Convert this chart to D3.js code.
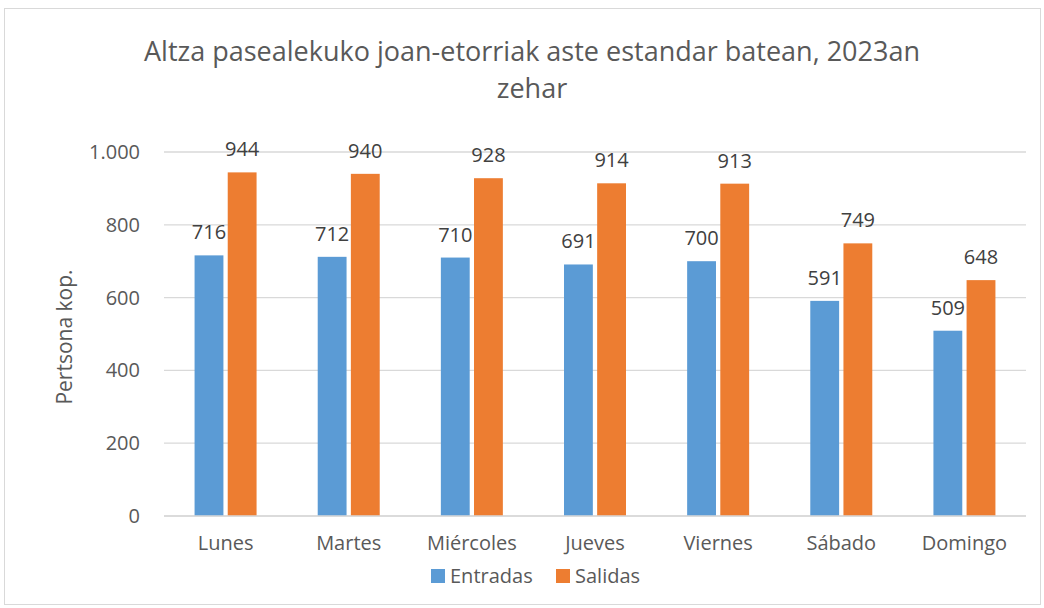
<html>
<head>
<meta charset="utf-8">
<title>Altza pasealekuko joan-etorriak</title>
<style>
  body { margin: 0; background: #fff; }
  text { font-family: "Open Sans", Lato, sans-serif; fill: #595959; }
</style>
<script src="https://d3js.org/d3.v7.min.js"></script>
</head>
<body>
<svg width="1044" height="608"></svg>
<script>
var dias = ["Lunes", "Martes", "Miércoles", "Jueves", "Viernes", "Sábado", "Domingo"];
var entradas = [716, 712, 710, 691, 700, 591, 509];
var salidas = [944, 940, 928, 914, 913, 749, 648];
var series = ["Entradas", "Salidas"];
var yTicks = [0, 200, 400, 600, 800, 1000];
var colores = ["#5b9bd5", "#ed7d31"];

var svg = d3.select("svg");
var margin = {top: 152, right: 18, bottom: 92, left: 164},
    width = 1044 - margin.left - margin.right,
    height = 608 - margin.top - margin.bottom;

// marco
svg.append("rect")
  .attr("x", 4.5).attr("y", 8.5)
  .attr("width", 1036).attr("height", 596)
  .attr("fill", "#fff").attr("stroke", "#d9d9d9");

var g = svg.append("g").attr("transform", `translate(${margin.left},${margin.top})`);

var x = d3.scaleBand().domain(dias).range([0, width]);
var x1 = d3.scaleBand().domain(series).range([0, 62]).paddingInner(0.13);
var y = d3.scaleLinear().domain([0, 1000]).range([height, 0]);

var fmt = d3.formatLocale({decimal: ",", thousands: ".", grouping: [3], currency: ["", "€"]}).format(",d");

// grid
g.selectAll(".grid").data(yTicks).enter().append("line")
  .attr("x1", 0).attr("x2", width)
  .attr("y1", d => y(d)).attr("y2", d => y(d))
  .attr("stroke", "#d9d9d9").attr("stroke-width", 1.3);

// eje y
g.append("g")
  .call(d3.axisLeft(y).tickValues(yTicks).tickFormat(fmt).tickSize(0).tickPadding(24))
  .call(a => a.select(".domain").remove())
  .selectAll("text").style("font-size", "20px").attr("fill", "#595959");

// eje x
g.append("g")
  .attr("transform", `translate(0,${height})`)
  .call(d3.axisBottom(x).tickSize(0).tickPadding(20))
  .call(a => a.select(".domain").remove())
  .selectAll("text").style("font-size", "20px").attr("fill", "#595959");

var rows = dias.map((d, i) => ({dia: d, vals: [entradas[i], salidas[i]]}));

var grp = g.selectAll(".dia").data(rows).enter().append("g")
  .attr("transform", d => `translate(${x(d.dia) + (x.bandwidth() - 62) / 2},0)`);

grp.selectAll("rect").data(d => d.vals.map((v, j) => ({s: series[j], v: v, j: j})))
  .enter().append("rect")
  .attr("x", d => x1(d.s))
  .attr("y", d => y(d.v))
  .attr("width", x1.bandwidth())
  .attr("height", d => height - y(d.v))
  .attr("fill", d => colores[d.j]);

grp.selectAll(".lbl").data(d => d.vals.map((v, j) => ({s: series[j], v: v})))
  .enter().append("text")
  .attr("x", d => x1(d.s) + x1.bandwidth() / 2)
  .attr("y", d => y(d.v) - 16)
  .attr("text-anchor", "middle")
  .style("font-size", "20px")
  .style("fill", "#404040")
  .text(d => fmt(d.v));

// linea base
g.append("line").attr("x1", 0).attr("x2", width)
  .attr("y1", height).attr("y2", height)
  .attr("stroke", "#d9d9d9").attr("stroke-width", 1.3);

// titulo
svg.append("text").attr("x", 532).attr("y", 61).attr("text-anchor", "middle")
  .style("font-size", "27px").text("Altza pasealekuko joan-etorriak aste estandar batean, 2023an");
svg.append("text").attr("x", 532).attr("y", 98).attr("text-anchor", "middle")
  .style("font-size", "27px").text("zehar");

// titulo eje y
svg.append("text")
  .attr("transform", "translate(72,337) rotate(-90)")
  .attr("text-anchor", "middle")
  .style("font-size", "21px").text("Pertsona kop.");

// leyenda
var leg = svg.append("g").attr("transform", "translate(431,569)");
var items = leg.selectAll("g").data(series).enter().append("g")
  .attr("transform", (d, i) => `translate(${i * 125},0)`);
items.append("rect").attr("width", 14).attr("height", 14).attr("fill", (d, i) => colores[i]);
items.append("text").attr("x", 19).attr("y", 14).style("font-size", "20px").text(d => d);
</script>
</body>
</html>
